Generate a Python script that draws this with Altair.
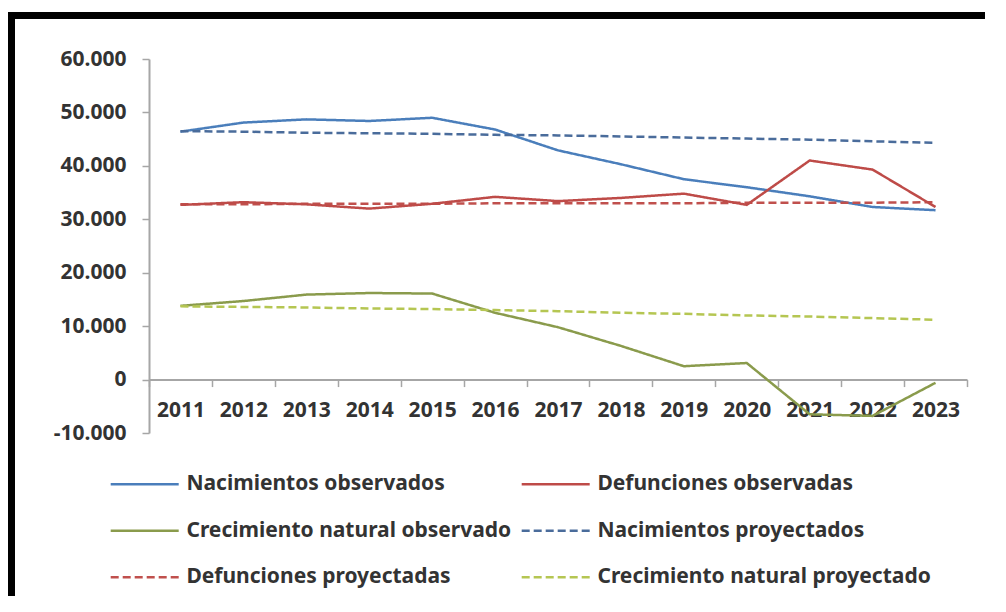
import altair as alt
import pandas as pd

years = ["2011", "2012", "2013", "2014", "2015", "2016", "2017",
         "2018", "2019", "2020", "2021", "2022", "2023"]

nac_obs = [46400, 48100, 48700, 48400, 49000, 46800, 42900, 40300, 37500, 36000, 34300, 32300, 31700]
def_obs = [32700, 33200, 32800, 32000, 32900, 34200, 33400, 34000, 34800, 32700, 41000, 39300, 32300]
cre_obs = [13800, 14700, 15900, 16200, 16100, 12500, 9800, 6300, 2500, 3100, -6500, -6800, -600]
nac_proj = [46500, 46400, 46200, 46100, 46000, 45800, 45700, 45500, 45300, 45100, 44900, 44600, 44300]
def_proj = [32800, 32800, 32900, 32900, 32900, 33000, 33000, 33000, 33000, 33100, 33100, 33100, 33200]
cre_proj = [13700, 13600, 13500, 13300, 13200, 13000, 12800, 12500, 12300, 12000, 11800, 11500, 11200]

# order chosen so the 2-column legend reads row by row like the original
series_names = [
    "Nacimientos observados",
    "Crecimiento natural observado",
    "Defunciones proyectadas",
    "Defunciones observadas",
    "Nacimientos proyectados",
    "Crecimiento natural proyectado",
]
series_values = [nac_obs, cre_obs, def_proj, def_obs, nac_proj, cre_proj]
series_colors = ["#4A7EBB", "#8A9B4C", "#C0504D", "#BE4B48", "#4A6C9B", "#B5C652"]
series_dash = [[1, 0], [1, 0], [8, 4], [1, 0], [8, 4], [8, 4]]

rows = []
for name, vals in zip(series_names, series_values):
    for yr, v in zip(years, vals):
        rows.append({"year": yr, "serie": name, "valor": v})
df = pd.DataFrame(rows)

FONT = "Noto Sans"
TXT = "#333333"
AXC = "#A6A6A6"

W, H = 818, 374
PAD = {"left": 141, "top": 51, "right": 21, "bottom": 163}

legend = alt.Legend(
    title=None,
    orient="none",
    legendX=-17.3,
    legendY=412.2,
    columns=2,
    columnPadding=4,
    rowPadding=23.5,
    padding=0,
    symbolType="M-3,0H3",
    symbolSize=514,
    symbolStrokeWidth=2.5,
    labelOffset=28.7,
    labelFont=FONT,
    labelFontSize=21,
    labelFontWeight="bold",
    labelColor=TXT,
    labelLimit=0,
)

lines = alt.Chart(df).mark_line(strokeWidth=2.5).encode(
    x=alt.X(
        "year:O",
        title=None,
        bandPosition=0.5,
        scale=alt.Scale(type="band", paddingInner=0, paddingOuter=0),
        axis=alt.Axis(
            offset=-H / 7,
            tickBand="extent",
            tickSize=7,
            tickColor=AXC,
            tickWidth=1.5,
            domainColor=AXC,
            domainWidth=2,
            labelAngle=0,
            labelFont=FONT,
            labelFontSize=21,
            labelFontWeight="bold",
            labelColor=TXT,
            labelPadding=13,
            grid=False,
        ),
    ),
    y=alt.Y(
        "valor:Q",
        title=None,
        scale=alt.Scale(domain=[-10000, 60000], nice=False, zero=False),
        axis=alt.Axis(
            values=[-10000, 0, 10000, 20000, 30000, 40000, 50000, 60000],
            labelExpr="datum.value == 0 ? '0' : (datum.value / 1000) + '.000'",
            tickSize=7,
            tickColor=AXC,
            tickWidth=1.5,
            domainColor=AXC,
            domainWidth=2,
            labelFont=FONT,
            labelFontSize=21,
            labelFontWeight="bold",
            labelColor=TXT,
            labelPadding=16,
            grid=False,
        ),
    ),
    color=alt.Color(
        "serie:N",
        scale=alt.Scale(domain=series_names, range=series_colors),
        legend=legend,
    ),
    strokeDash=alt.StrokeDash(
        "serie:N",
        scale=alt.Scale(domain=series_names, range=series_dash),
        legend=legend,
    ),
    order=alt.Order("year:O"),
)

# decorative black frame: only its top and left edges fall inside the picture
frame_data = alt.Data(values=[{"k": 1}])
frame_top = alt.Chart(frame_data).mark_rect(color="black", clip=False).encode(
    x=alt.value(-PAD["left"]), x2=alt.value(W + 18),
    y=alt.value(-47), y2=alt.value(-40),
)
frame_left = alt.Chart(frame_data).mark_rect(color="black", clip=False).encode(
    x=alt.value(-PAD["left"]), x2=alt.value(-PAD["left"] + 7),
    y=alt.value(-47), y2=alt.value(H + PAD["bottom"]),
)

chart = alt.layer(lines, frame_top, frame_left).properties(
    width=W,
    height=H,
    autosize=alt.AutoSizeParams(type="none"),
    padding=PAD,
    background="white",
).configure_view(stroke=None)

chart.save("out.html", embed_options={"renderer": "svg", "actions": False})
